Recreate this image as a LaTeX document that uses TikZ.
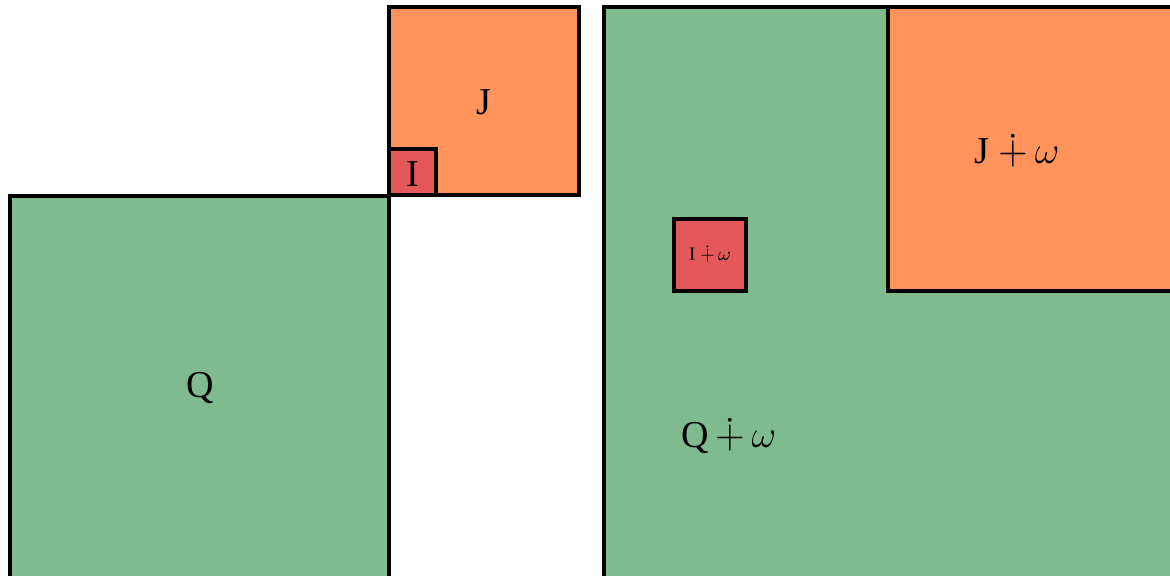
\documentclass[tikz,border=0pt]{standalone}
\usepackage{fix-cm}
\usepackage{amssymb}
\usepackage{fontspec}
\setmainfont{Liberation Serif}

\definecolor{qgreen}{RGB}{127,187,143}
\definecolor{jorange}{RGB}{255,147,92}
\definecolor{ired}{RGB}{228,88,90}

\begin{document}
\begin{tikzpicture}[
  x=0.5pt, y=-0.5pt,
  sq/.style={draw=black, line width=1.6pt},
  lbl/.style={font=\fontsize{19}{22}\selectfont, inner sep=0pt},
  tiny/.style={font=\fontsize{9.5}{11}\selectfont, inner sep=0pt}
  ]
  \useasboundingbox (0,0) rectangle (1170,575);
  \clip (0,0) rectangle (1170,575);

  % left: the three cubes
  \draw[sq, fill=qgreen] (10,196) rectangle (389,580);
  \draw[sq, fill=jorange] (389,7) rectangle (579,195);
  \draw[sq, fill=ired] (389,149) rectangle (436,195);
  \node[lbl] (q) at (200,388) {Q};
  \node[lbl] (j) at (484,102) {J};
  \node[lbl] (i) at (413,174) {I};

  % right: translated by omega
  \draw[sq, fill=qgreen] (604,7) rectangle (1180,580);
  \draw[sq, fill=jorange] (888,7) rectangle (1180,291);
  \draw[sq, fill=ired] (674,219) rectangle (746,291);
  \node[lbl] (qw) at (729,437) {Q$\,\dotplus\,\omega$};
  \node[lbl] (jw) at (1017,152) {J $\dotplus\,\omega$};
  \node[tiny] (iw) at (710,255) {I $\dotplus\,\omega$};
\end{tikzpicture}
\end{document}
